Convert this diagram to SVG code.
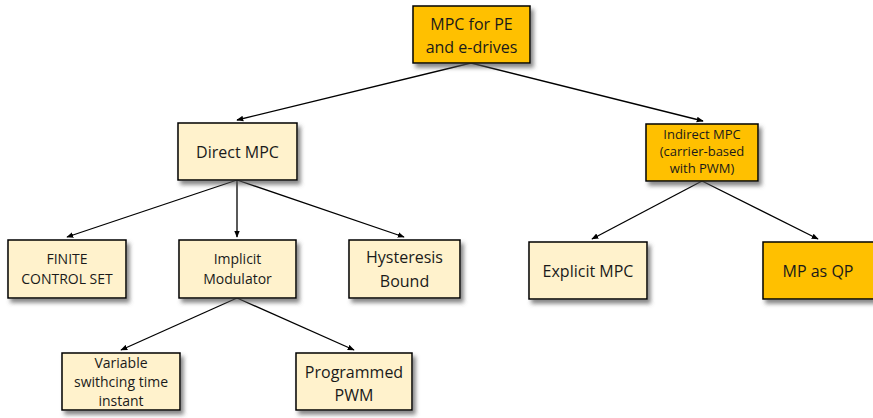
<svg xmlns="http://www.w3.org/2000/svg" width="873" height="418" viewBox="0 0 873 418">
<style>
.box{stroke:#000;stroke-width:1.5;filter:url(#sh)}
.lt{fill:#FFF2CC}
.or{fill:#FFC000}
text{font-family:"Open Sans","Liberation Sans",sans-serif;fill:#1a1a1a;text-anchor:middle}
.f16{font-size:16px}
.f14{font-size:14px}
.f13{font-size:13px}
.con line{stroke:#000;stroke-width:1.3;marker-end:url(#ah)}
</style>
<defs>
<filter id="sh" x="-10%" y="-10%" width="130%" height="140%">
<feDropShadow dx="3" dy="4" stdDeviation="2" flood-color="#555" flood-opacity="0.7"/>
</filter>
<marker id="ah" viewBox="0 0 10 10" refX="9" refY="5" markerWidth="7" markerHeight="7" orient="auto" markerUnits="userSpaceOnUse">
<path d="M0,1 L10,5 L0,9 Z" fill="#000"/>
</marker>
</defs>
<g class="con">
<line x1="471" y1="63" x2="237" y2="120"/>
<line x1="471" y1="63" x2="703" y2="121"/>
<line x1="237" y1="180" x2="67" y2="237"/>
<line x1="237" y1="180" x2="237" y2="237"/>
<line x1="237" y1="180" x2="404" y2="237"/>
<line x1="702" y1="181" x2="592" y2="239"/>
<line x1="702" y1="181" x2="818" y2="239"/>
<line x1="237" y1="298" x2="121" y2="350"/>
<line x1="237" y1="298" x2="354" y2="350"/>
</g>
<g id="root"><rect class="box or" x="413" y="6" width="117" height="57"/>
<text class="f16" x="471.5" y="30">MPC for PE</text><text class="f16" x="471.5" y="53">and e-drives</text></g>
<g id="direct"><rect class="box lt" x="178" y="123" width="119" height="57"/>
<text class="f16" x="237.5" y="158">Direct MPC</text></g>
<g id="indirect"><rect class="box or" x="646" y="124" width="112" height="57"/>
<text class="f13" x="702" y="139">Indirect MPC</text><text class="f13" x="702" y="156">(carrier-based</text><text class="f13" x="702" y="173">with PWM)</text></g>
<g id="fcs"><rect class="box lt" x="8" y="240" width="118" height="58"/>
<text class="f14" x="67" y="264">FINITE</text><text class="f14" x="67" y="284">CONTROL SET</text></g>
<g id="implicit"><rect class="box lt" x="179" y="240" width="117" height="58"/>
<text class="f14" x="237.5" y="264">Implicit</text><text class="f14" x="237.5" y="284">Modulator</text></g>
<g id="hyst"><rect class="box lt" x="349" y="240" width="111" height="58"/>
<text class="f16" x="404.5" y="263">Hysteresis</text><text class="f16" x="404.5" y="287">Bound</text></g>
<g id="explicit"><rect class="box lt" x="529" y="242" width="118" height="57"/>
<text class="f16" x="588" y="277">Explicit MPC</text></g>
<g id="mpqp"><rect class="box or" x="763" y="242" width="112" height="57"/>
<text class="f16" x="818" y="277">MP as QP</text></g>
<g id="variable"><rect class="box lt" x="62" y="353" width="118" height="57"/>
<text class="f14" x="121" y="368">Variable</text><text class="f14" x="121" y="387">swithcing time</text><text class="f14" x="121" y="406">instant</text></g>
<g id="programmed"><rect class="box lt" x="296" y="353" width="116" height="57"/>
<text class="f16" x="354" y="378">Programmed</text><text class="f16" x="354" y="401">PWM</text></g>
</svg>
